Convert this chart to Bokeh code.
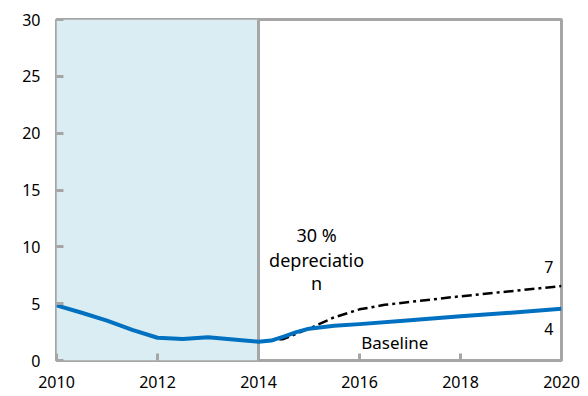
from bokeh.plotting import figure
from bokeh.embed import file_html
from bokeh.resources import INLINE
from bokeh.models import FixedTicker, Range1d
from bokeh.core.properties import value

# Data
baseline_years = [2010, 2010.5, 2011, 2011.5, 2012, 2012.5, 2013, 2013.5, 2014, 2014.25, 2014.5, 2014.75,
                  2015, 2015.5, 2016, 2017, 2018, 2019, 2020]
baseline_vals = [4.85, 4.2, 3.5, 2.7, 2.0, 1.9, 2.05, 1.85, 1.65, 1.75, 2.1, 2.5,
                 2.8, 3.05, 3.2, 3.55, 3.9, 4.2, 4.55]

dep_years = [2014, 2014.5, 2015, 2015.5, 2016, 2016.5, 2017, 2018, 2019, 2020]
dep_vals = [1.65, 1.9, 2.8, 3.8, 4.5, 4.9, 5.15, 5.65, 6.1, 6.55]

shade_start = [2010]
shade_end = [2014]
divider_year = [2014]

x_ticks = [2010, 2012, 2014, 2016, 2018, 2020]
y_ticks = [0, 5, 10, 15, 20, 25, 30]

FONT = "Noto Sans"
GRAY = "#a6a6a6"

p = figure(frame_width=505, frame_height=341, output_backend="svg", toolbar_location=None,
           x_range=Range1d(2010, 2020), y_range=Range1d(0, 30),
           min_border_left=56, min_border_top=19, min_border_right=24, min_border_bottom=34)
p.background_fill_color = "white"
p.border_fill_color = "white"
p.xgrid.visible = False
p.ygrid.visible = False
p.outline_line_color = GRAY
p.outline_line_width = 3

# shaded historical period
p.quad(left=shade_start, right=shade_end, bottom=[0], top=[30], fill_color="#daedf3", line_color=None)
p.segment(x0=divider_year, y0=[0], x1=divider_year, y1=[30], line_color=GRAY, line_width=3)

p.line(dep_years, dep_vals, line_color="black", line_width=2.5, line_dash="10 4 3 4")
p.line(baseline_years, baseline_vals, line_color="#0070c0", line_width=4, line_join="round")

for ax in (p.xaxis[0], p.yaxis[0]):
    ax.axis_line_color = None
    ax.major_tick_line_color = GRAY
    ax.major_tick_line_width = 3
    ax.major_tick_in = 7
    ax.major_tick_out = 0
    ax.minor_tick_line_color = None
    ax.major_label_text_font = FONT
    ax.major_label_text_font_size = "16px"
    ax.major_label_text_color = "black"

p.xaxis.ticker = FixedTicker(ticks=x_ticks)
p.yaxis.ticker = FixedTicker(ticks=y_ticks)
p.xaxis.major_label_standoff = 15
p.yaxis.major_label_standoff = 16

# annotations
p.text(x=[2015.15, 2015.15, 2015.15], y=[11.0, 8.8, 6.8], text=["30 %", "depreciatio", "n"],
       text_font=value(FONT), text_font_size="18px", text_align="center", text_baseline="middle",
       text_color="black")
p.text(x=[2019.75, 2019.75], y=[8.2, 2.8], text=["7", "4"],
       text_font=value(FONT), text_font_size="16px", text_align="center", text_baseline="middle",
       text_color="black")
p.text(x=[2016.7], y=[1.55], text=["Baseline"],
       text_font=value(FONT), text_font_size="17px", text_align="center", text_baseline="middle",
       text_color="black")

open("out.html", "w").write(file_html(p, INLINE))
